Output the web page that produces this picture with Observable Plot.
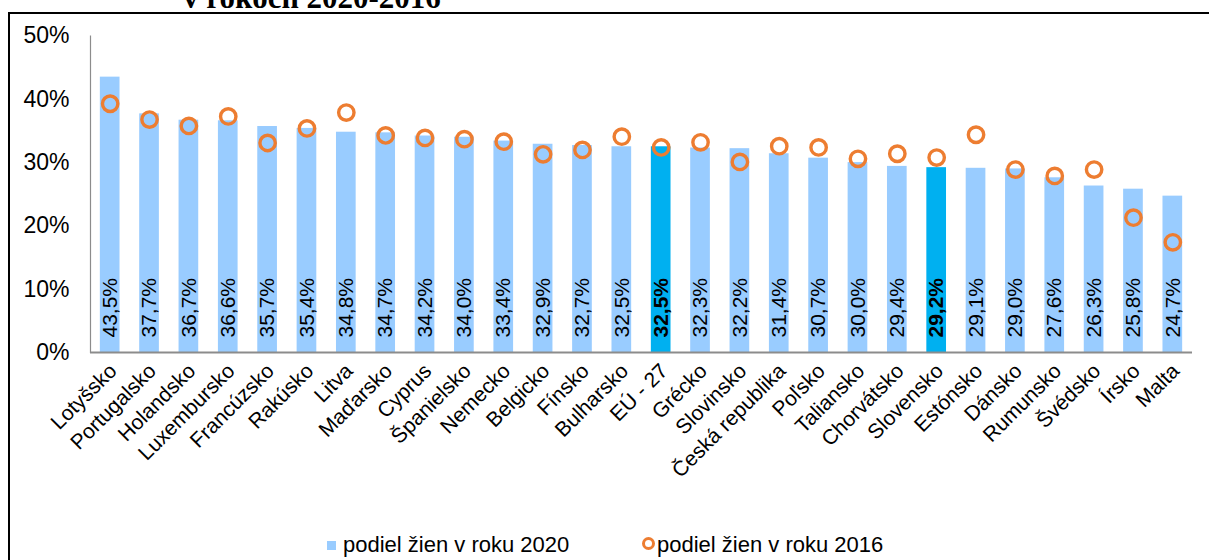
<!DOCTYPE html>
<html>
<head>
<meta charset="utf-8">
<script src="https://cdn.jsdelivr.net/npm/d3@7"></script>
<script src="https://cdn.jsdelivr.net/npm/@observablehq/plot@0.6"></script>
<style>
  html, body { margin: 0; padding: 0; background: #fff; overflow: hidden; }
  body { width: 1209px; height: 560px; position: relative; font-family: "Liberation Sans", Arial, sans-serif; }
  #frame { position: absolute; left: 8px; top: 12px; width: 1400px; height: 700px; border-left: 2px solid #000; border-top: 2px solid #000; }
  #title { position: absolute; left: 183px; top: -18px; font-family: "Liberation Serif", "Times New Roman", serif; font-weight: bold; font-size: 31px; line-height: 31px; white-space: nowrap; color: #000; }
  #chart { position: absolute; left: 0; top: 0; }
  #legend { position: absolute; top: 532px; left: 0; width: 1209px; font-size: 22px; color: #000; }
  .item { position: absolute; top: 0; white-space: nowrap; line-height: 26px; }
  .sq { display: inline-block; width: 9px; height: 9px; background: #99CCFF; margin-right: 7px; vertical-align: 2px; }
  .ring { display: inline-block; width: 7px; height: 7px; border: 3px solid #ED7D31; border-radius: 50%; margin-right: 2px; vertical-align: 2px; }
</style>
</head>
<body>
<div id="frame"></div>
<div id="title">v rokoch 2020-2016</div>
<div id="chart"></div>
<div id="legend">
  <div class="item" style="left:327px"><span class="sq"></span>podiel žien v roku 2020</div>
  <div class="item" style="left:642px"><span class="ring"></span>podiel žien v roku 2016</div>
</div>
<script>
const countries = ["Lotyšsko", "Portugalsko", "Holandsko", "Luxembursko", "Francúzsko", "Rakúsko", "Litva", "Maďarsko", "Cyprus", "Španielsko", "Nemecko", "Belgicko", "Fínsko", "Bulharsko", "EÚ - 27", "Grécko", "Slovinsko", "Česká republika", "Poľsko", "Taliansko", "Chorvátsko", "Slovensko", "Estónsko", "Dánsko", "Rumunsko", "Švédsko", "Írsko", "Malta"];
const share2020 = [43.5, 37.7, 36.7, 36.6, 35.7, 35.4, 34.8, 34.7, 34.2, 34.0, 33.4, 32.9, 32.7, 32.5, 32.5, 32.3, 32.2, 31.4, 30.7, 30.0, 29.4, 29.2, 29.1, 29.0, 27.6, 26.3, 25.8, 24.7];
const share2016 = [39.3, 36.8, 35.8, 37.3, 33.1, 35.4, 37.9, 34.3, 33.9, 33.7, 33.3, 31.3, 32.0, 34.1, 32.4, 33.2, 30.1, 32.6, 32.4, 30.6, 31.4, 30.8, 34.4, 28.9, 27.9, 28.9, 21.3, 17.4];
const highlighted = ["EÚ - 27", "Slovensko"];
const yTicks = [0, 10, 20, 30, 40, 50];

const data = countries.map((c, i) => ({country: c, v2020: share2020[i], v2016: share2016[i], hl: highlighted.includes(c)}));
const fmt = v => v.toFixed(1).replace(".", ",") + "%";
const normal = data.filter(d => !d.hl);
const hl = data.filter(d => d.hl);

const chart = Plot.plot({
  width: 1209,
  height: 500,
  marginLeft: 90,
  marginRight: 17,
  marginTop: 35.5,
  marginBottom: 148,
  style: {fontFamily: "'Liberation Sans', Arial, sans-serif", background: "transparent", color: "#000"},
  x: {domain: countries, paddingInner: 0.5, paddingOuter: 0.25, round: false, axis: null},
  y: {domain: [0, 50], axis: null},
  marks: [
    Plot.barY(normal, {x: "country", y: "v2020", fill: "#99CCFF"}),
    Plot.barY(hl, {x: "country", y: "v2020", fill: "#00B0F0"}),
    Plot.frame({anchor: "left", stroke: "#8c8c8c", strokeWidth: 1.2}),
    Plot.ruleY([0], {stroke: "#8c8c8c", strokeWidth: 2}),
    Plot.axisY({ticks: yTicks, tickFormat: d => d + "%", tickSize: 0, tickPadding: 21, fontSize: 23, fill: "#000"}),
    Plot.text(normal, {x: "country", frameAnchor: "bottom", text: d => fmt(d.v2020), rotate: -90, textAnchor: "start", lineAnchor: "middle", dy: -15, fontSize: 21, fill: "#000"}),
    Plot.text(hl, {x: "country", frameAnchor: "bottom", text: d => fmt(d.v2020), rotate: -90, textAnchor: "start", lineAnchor: "middle", dy: -15, fontSize: 21, fontWeight: "bold", fill: "#000"}),
    Plot.text(data, {x: "country", frameAnchor: "bottom", text: "country", rotate: -45, textAnchor: "end", lineAnchor: "middle", dy: 15, dx: 3, fontSize: 21, fill: "#000"}),
    Plot.dot(data, {x: "country", y: "v2016", r: 7.7, stroke: "#ED7D31", strokeWidth: 3.4, fill: "none"})
  ]
});
document.getElementById("chart").appendChild(chart);
</script>
</body>
</html>
